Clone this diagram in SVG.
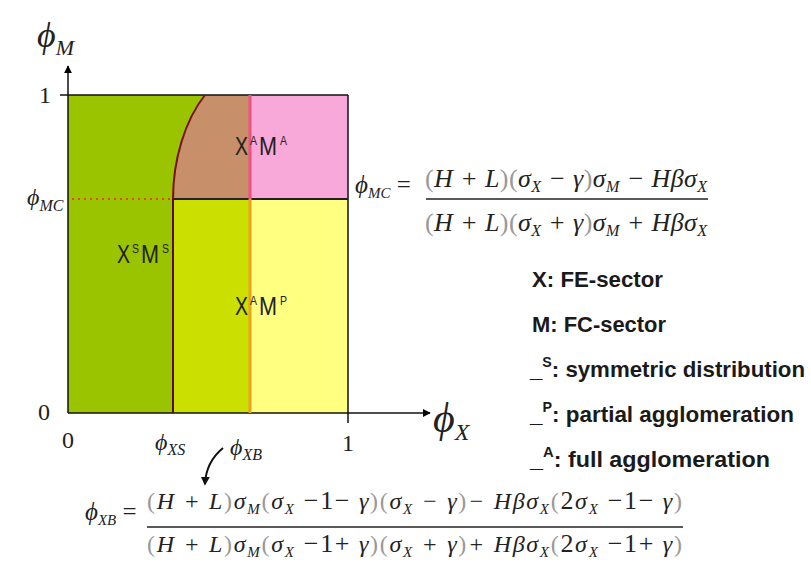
<svg xmlns="http://www.w3.org/2000/svg" width="811" height="577" viewBox="0 0 811 577">
<defs>
<marker id="ah" viewBox="0 0 10 10" refX="9" refY="5" markerWidth="8" markerHeight="8" orient="auto-start-reverse" markerUnits="userSpaceOnUse">
<path d="M0,0 L10,5 L0,10 z" fill="#000"/>
</marker>
<marker id="ah2" viewBox="0 0 10 10" refX="8" refY="5" markerWidth="9" markerHeight="9" orient="auto" markerUnits="userSpaceOnUse">
<path d="M0,0 L10,5 L0,10 z" fill="#111"/>
</marker>
</defs>
<style>
.m{font-family:"Liberation Serif","Times New Roman",serif;font-style:italic;fill:#222}
.n{font-family:"Liberation Serif","Times New Roman",serif;fill:#222;font-style:normal}
.p{fill:#999;font-style:normal}
.lbl{font-family:"Liberation Sans",Arial,sans-serif;fill:#222;font-size:26px}
.sup{font-family:"Liberation Sans",Arial,sans-serif;fill:#222;font-size:13px}
.leg{font-family:"Liberation Sans",Arial,sans-serif;font-weight:bold;fill:#1a1a1a;font-size:22px}
.ax{stroke:#111;stroke-width:1.5;fill:none}
</style>
<rect width="811" height="577" fill="#fff"/>
<g id="regions">
<rect id="ss" x="68" y="95" width="105" height="318" fill="#9AC400"/>
<path id="aa-brown" d="M173,199 C173,160 185,120 205,95 L250,95 L250,199 Z" fill="#C8906A"/>
<path d="M173,95 L205,95 C185,120 173,160 173,199 Z" fill="#9AC400"/>
<rect id="aa-pink" x="250" y="95" width="98" height="104" fill="#F9A8DA"/>
<rect id="ap-green" x="173" y="199" width="77" height="214" fill="#CCE000"/>
<rect id="ap-yellow" x="250" y="199" width="98" height="214" fill="#FFFF80"/>
</g>
<g id="connectors">
<line class="ax" x1="68" y1="413" x2="68" y2="66" marker-end="url(#ah)"/>
<line class="ax" x1="68" y1="413" x2="430" y2="413" marker-end="url(#ah)"/>
<line class="ax" x1="60" y1="95" x2="348" y2="95" stroke="#333"/>
<line class="ax" x1="348" y1="95" x2="348" y2="423" stroke="#333"/>
<line x1="173" y1="199" x2="348" y2="199" stroke="#222" stroke-width="2"/>
<line x1="173" y1="199" x2="173" y2="413" stroke="#5a0a0a" stroke-width="2"/>
<path d="M173,199 C173,160 185,120 205,95" fill="none" stroke="#7a1010" stroke-width="2"/>
<line x1="250" y1="95" x2="250" y2="199" stroke="#F05080" stroke-width="3"/>
<line x1="250" y1="199" x2="250" y2="413" stroke="#F0A020" stroke-width="3"/>
<line x1="72" y1="199" x2="170" y2="199" stroke="#F04000" stroke-width="2" stroke-dasharray="2,4"/>
<path d="M223,448 Q206,462 205,484" fill="none" stroke="#111" stroke-width="2" marker-end="url(#ah2)"/>
</g>
<g id="axis-labels">
<text class="m" x="37" y="47" font-size="36">ϕ<tspan font-size="22" dy="8">M</tspan></text>
<text class="m" x="433" y="432" font-size="42">ϕ<tspan font-size="24" dy="8">X</tspan></text>
<text class="m" x="27" y="205" font-size="24">ϕ<tspan font-size="16" dy="6">MC</tspan></text>
<text class="n" x="39" y="103" font-size="24">1</text>
<text class="n" x="38" y="420" font-size="24">0</text>
<text class="n" x="62" y="448" font-size="24">0</text>
<text class="n" x="342" y="451" font-size="24">1</text>
<text class="m" x="155" y="450" font-size="24">ϕ<tspan font-size="16" dy="5">XS</tspan></text>
<text class="m" x="230" y="455" font-size="24">ϕ<tspan font-size="16" dy="5">XB</tspan></text>
</g>
<g id="region-labels">
<g id="label-aa">
<text class="lbl" x="235" y="155" textLength="13" lengthAdjust="spacingAndGlyphs">X</text>
<text class="sup" x="250" y="145" textLength="7" lengthAdjust="spacingAndGlyphs">A</text>
<text class="lbl" x="259" y="155" textLength="18" lengthAdjust="spacingAndGlyphs">M</text>
<text class="sup" x="280" y="145" textLength="7" lengthAdjust="spacingAndGlyphs">A</text>
</g>
<g id="label-ss">
<text class="lbl" x="117" y="263" textLength="13" lengthAdjust="spacingAndGlyphs">X</text>
<text class="sup" x="132" y="253" textLength="7" lengthAdjust="spacingAndGlyphs">S</text>
<text class="lbl" x="141" y="263" textLength="18" lengthAdjust="spacingAndGlyphs">M</text>
<text class="sup" x="162" y="253" textLength="7" lengthAdjust="spacingAndGlyphs">S</text>
</g>
<g id="label-ap">
<text class="lbl" x="235" y="315" textLength="13" lengthAdjust="spacingAndGlyphs">X</text>
<text class="sup" x="250" y="305" textLength="7" lengthAdjust="spacingAndGlyphs">A</text>
<text class="lbl" x="259" y="315" textLength="18" lengthAdjust="spacingAndGlyphs">M</text>
<text class="sup" x="280" y="305" textLength="7" lengthAdjust="spacingAndGlyphs">P</text>
</g>
</g>
<g id="formula-mc">
<text class="m" x="355" y="193" font-size="25">ϕ<tspan font-size="15" dy="5">MC</tspan><tspan class="n" font-size="25" dy="-5"> =</tspan></text>
<text class="m" x="425" y="187" font-size="26" textLength="282" lengthAdjust="spacing"><tspan class="p">(</tspan>H + L<tspan class="p">)(</tspan>σ<tspan font-size="16" dy="5">X</tspan><tspan dy="-5"> − γ</tspan><tspan class="p">)</tspan>σ<tspan font-size="16" dy="5">M</tspan><tspan dy="-5"> − Hβσ</tspan><tspan font-size="16" dy="5">X</tspan></text>
<line x1="426" y1="199" x2="708" y2="199" stroke="#222" stroke-width="1.5"/>
<text class="m" x="425" y="231" font-size="26" textLength="282" lengthAdjust="spacing"><tspan class="p">(</tspan>H + L<tspan class="p">)(</tspan>σ<tspan font-size="16" dy="5">X</tspan><tspan dy="-5"> + γ</tspan><tspan class="p">)</tspan>σ<tspan font-size="16" dy="5">M</tspan><tspan dy="-5"> + Hβσ</tspan><tspan font-size="16" dy="5">X</tspan></text>
</g>
<g id="legend">
<text class="leg" x="532" y="287" textLength="131" lengthAdjust="spacingAndGlyphs">X: FE-sector</text>
<text class="leg" x="532" y="332" textLength="134" lengthAdjust="spacingAndGlyphs">M: FC-sector</text>
<text class="leg" x="530" y="377" textLength="275" lengthAdjust="spacingAndGlyphs">_<tspan font-size="14" dy="-10">S</tspan><tspan dy="10">: symmetric distribution</tspan></text>
<text class="leg" x="530" y="422" textLength="264" lengthAdjust="spacingAndGlyphs">_<tspan font-size="14" dy="-10">P</tspan><tspan dy="10">: partial agglomeration</tspan></text>
<text class="leg" x="530" y="467" textLength="240" lengthAdjust="spacingAndGlyphs">_<tspan font-size="14" dy="-10">A</tspan><tspan dy="10">: full agglomeration</tspan></text>
</g>
<g id="formula-xb">
<text class="m" x="85" y="520" font-size="25">ϕ<tspan font-size="15" dy="5">XB</tspan><tspan class="n" font-size="25" dy="-5"> =</tspan></text>
<text class="m" x="147" y="509" font-size="24" textLength="535" lengthAdjust="spacing"><tspan class="p">(</tspan>H + L<tspan class="p">)</tspan>σ<tspan font-size="15" dy="5">M</tspan><tspan class="p" dy="-5">(</tspan>σ<tspan font-size="15" dy="5">X</tspan><tspan class="n" font-size="26" dy="-5"> −1−</tspan> γ<tspan class="p">)(</tspan>σ<tspan font-size="15" dy="5">X</tspan><tspan dy="-5"> − γ</tspan><tspan class="p">)</tspan>− Hβσ<tspan font-size="15" dy="5">X</tspan><tspan class="p" dy="-5">(</tspan><tspan class="n" font-size="26">2</tspan>σ<tspan font-size="15" dy="5">X</tspan><tspan class="n" font-size="26" dy="-5"> −1−</tspan> γ<tspan class="p">)</tspan></text>
<line x1="147" y1="527" x2="683" y2="527" stroke="#222" stroke-width="1.5"/>
<text class="m" x="147" y="552" font-size="24" textLength="535" lengthAdjust="spacing"><tspan class="p">(</tspan>H + L<tspan class="p">)</tspan>σ<tspan font-size="15" dy="5">M</tspan><tspan class="p" dy="-5">(</tspan>σ<tspan font-size="15" dy="5">X</tspan><tspan class="n" font-size="26" dy="-5"> −1+</tspan> γ<tspan class="p">)(</tspan>σ<tspan font-size="15" dy="5">X</tspan><tspan dy="-5"> + γ</tspan><tspan class="p">)</tspan>+ Hβσ<tspan font-size="15" dy="5">X</tspan><tspan class="p" dy="-5">(</tspan><tspan class="n" font-size="26">2</tspan>σ<tspan font-size="15" dy="5">X</tspan><tspan class="n" font-size="26" dy="-5"> −1+</tspan> γ<tspan class="p">)</tspan></text>
</g>
</svg>
